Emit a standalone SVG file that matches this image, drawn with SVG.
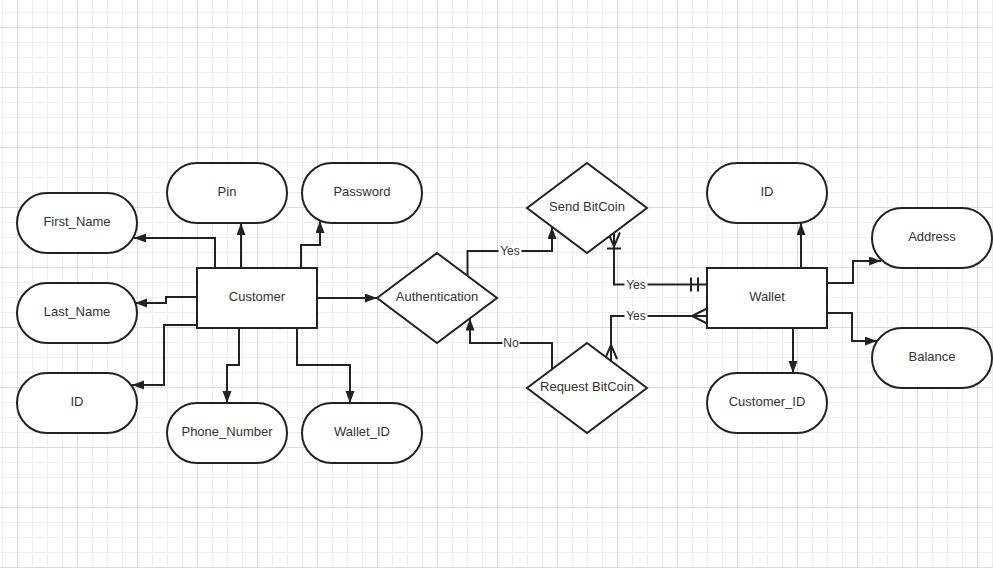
<svg xmlns="http://www.w3.org/2000/svg" width="993" height="568" viewBox="0 0 993 568">
<defs>
<pattern id="minor" patternUnits="userSpaceOnUse" x="2" y="12" width="15" height="15">
<rect x="0" y="0" width="1" height="15" fill="#eeeeee"/>
<rect x="0" y="0" width="15" height="1" fill="#eeeeee"/>
</pattern>
<pattern id="major" patternUnits="userSpaceOnUse" x="17" y="27" width="60" height="60">
<rect x="0" y="0" width="1" height="60" fill="#dddddd"/>
<rect x="0" y="0" width="60" height="1" fill="#dddddd"/>
</pattern>
<marker id="arr" markerUnits="userSpaceOnUse" markerWidth="13" markerHeight="10" refX="12" refY="4.5" orient="auto">
<path d="M0,0 L12,4.5 L0,9 z" fill="#222"/>
</marker>
</defs>
<style>
.shape{fill:#fff;stroke:#222;stroke-width:2}
.t{font-family:"Liberation Sans",Arial,sans-serif;font-size:13px;fill:#333;text-anchor:middle}
.lbl{font-family:"Liberation Sans",Arial,sans-serif;font-size:12px;fill:#333;text-anchor:middle}
.c{fill:none;stroke:#222;stroke-width:2}
.a{marker-end:url(#arr)}
.lb{fill:#fff}
</style>
<rect x="0" y="0" width="993" height="568" fill="#fff"/>
<rect x="0" y="0" width="993" height="568" fill="url(#minor)"/>
<rect x="0" y="0" width="993" height="568" fill="url(#major)"/>

<g id="connectors">
<path class="c a" d="M215,268 V238 H134"/>
<path class="c a" d="M241,268 V223"/>
<path class="c a" d="M301,268 V245 H320 V221"/>
<path class="c a" d="M197,297 H166 V303 H135"/>
<path class="c a" d="M197,325 H164 V385 H132"/>
<path class="c a" d="M239,328 V365 H227 V403"/>
<path class="c a" d="M297,328 V365 H350 V403"/>
<path class="c a" d="M317,298 H377"/>
<path class="c a" d="M467.5,275.5 V251 H552 V227"/>
<path class="c a" d="M552,369 V343 H470 V318.5"/>
<path class="c" d="M614,233 V284.5 H707"/>
<path class="c" d="M608,232.5 L614,246.5 L620,232.5 M607,248.5 H621"/>
<path class="c" d="M691,277.5 V291.5 M698,277.5 V291.5"/>
<path class="c" d="M611,361 V316 H707"/>
<path class="c" d="M605,359 L611,345 L617,359"/>
<path class="c" d="M707,308.5 L692,316 L707,323.5"/>
<path class="c a" d="M801,268 V223"/>
<path class="c a" d="M827,283 H853 V261 H881"/>
<path class="c a" d="M827,313 H852 V341 H877"/>
<path class="c a" d="M793,328 V373"/>
<rect class="lb" x="498.5" y="244" width="23" height="14"/>
<text class="lbl" x="510" y="255">Yes</text>
<rect class="lb" x="502.5" y="336" width="17" height="14"/>
<text class="lbl" x="511" y="347">No</text>
<rect class="lb" x="624.5" y="277.5" width="23" height="14"/>
<text class="lbl" x="636" y="288.5">Yes</text>
<rect class="lb" x="624.5" y="309" width="23" height="14"/>
<text class="lbl" x="636" y="320">Yes</text>
</g>

<g id="first_name"><rect class="shape" x="17" y="193" width="120" height="60" rx="30"/><text class="t" x="77" y="226">First_Name</text></g>
<g id="pin"><rect class="shape" x="167" y="163" width="120" height="60" rx="30"/><text class="t" x="227" y="196">Pin</text></g>
<g id="password"><rect class="shape" x="302" y="163" width="120" height="60" rx="30"/><text class="t" x="362" y="196">Password</text></g>
<g id="last_name"><rect class="shape" x="17" y="283" width="120" height="60" rx="30"/><text class="t" x="77" y="316">Last_Name</text></g>
<g id="customer_id_attr"><rect class="shape" x="17" y="373" width="120" height="60" rx="30"/><text class="t" x="77" y="406">ID</text></g>
<g id="phone_number"><rect class="shape" x="167" y="403" width="120" height="60" rx="30"/><text class="t" x="227" y="436">Phone_Number</text></g>
<g id="wallet_id"><rect class="shape" x="302" y="403" width="120" height="60" rx="30"/><text class="t" x="362" y="436">Wallet_ID</text></g>
<g id="customer"><rect class="shape" x="197" y="268" width="120" height="60"/><text class="t" x="257" y="301">Customer</text></g>
<g id="authentication"><polygon class="shape" points="377,298 437,253 497,298 437,343"/><text class="t" x="437" y="301">Authentication</text></g>
<g id="send_bitcoin"><polygon class="shape" points="527,208 587,163 647,208 587,253"/><text class="t" x="587" y="211">Send BitCoin</text></g>
<g id="request_bitcoin"><polygon class="shape" points="527,388 587,343 647,388 587,433"/><text class="t" x="587" y="391">Request BitCoin</text></g>
<g id="wallet_id_attr"><rect class="shape" x="707" y="163" width="120" height="60" rx="30"/><text class="t" x="767" y="196">ID</text></g>
<g id="address"><rect class="shape" x="872" y="208" width="120" height="60" rx="30"/><text class="t" x="932" y="241">Address</text></g>
<g id="wallet"><rect class="shape" x="707" y="268" width="120" height="60"/><text class="t" x="767" y="301">Wallet</text></g>
<g id="balance"><rect class="shape" x="872" y="328" width="120" height="60" rx="30"/><text class="t" x="932" y="361">Balance</text></g>
<g id="customer_id"><rect class="shape" x="707" y="373" width="120" height="60" rx="30"/><text class="t" x="767" y="406">Customer_ID</text></g>
</svg>
